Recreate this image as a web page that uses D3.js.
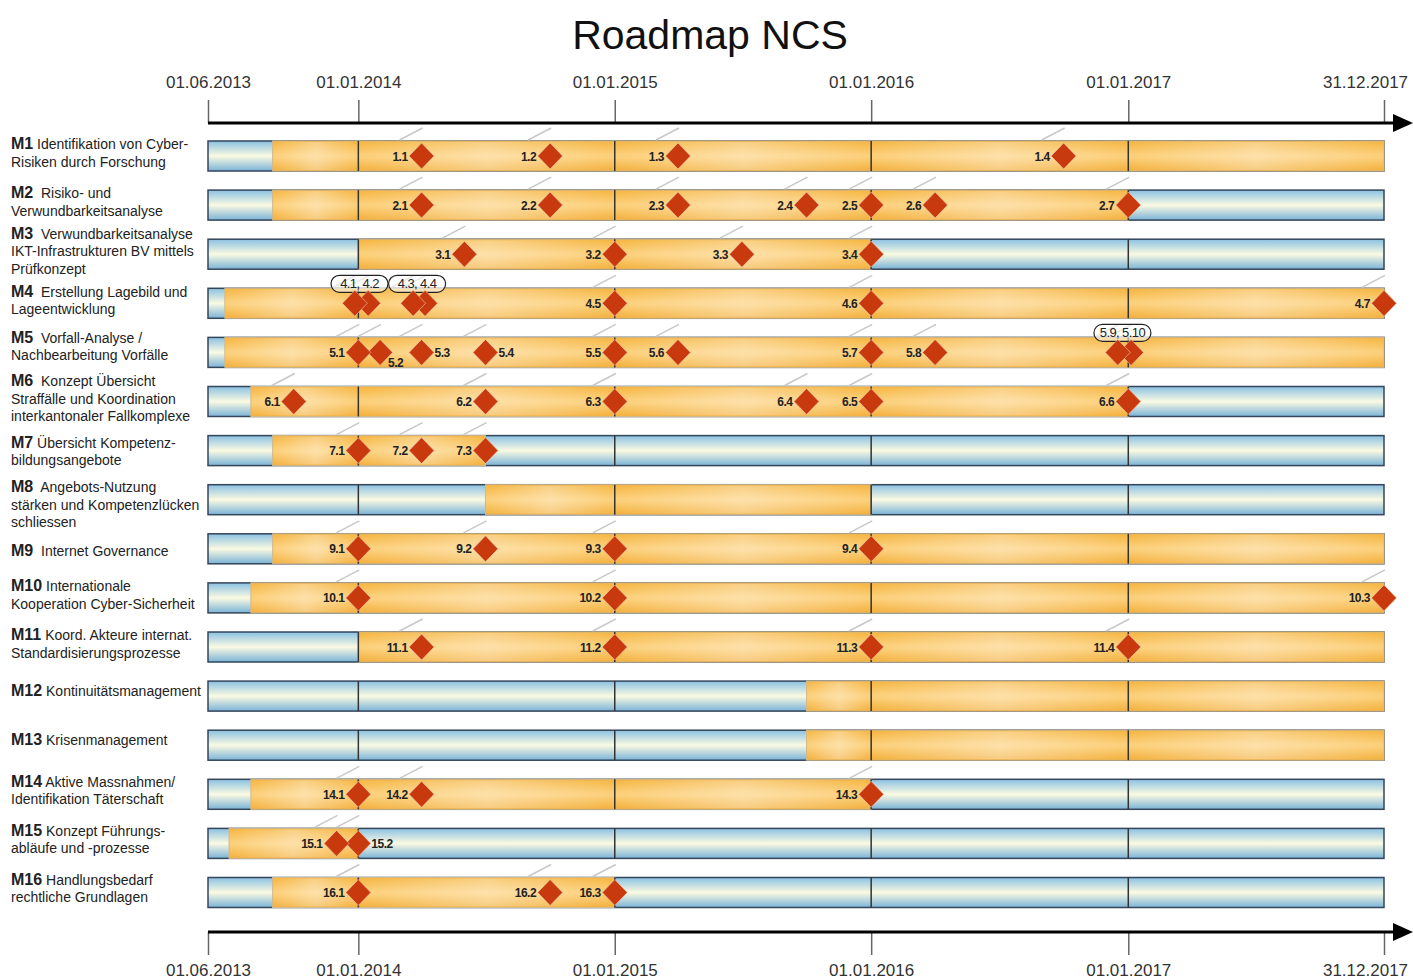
<!DOCTYPE html>
<html>
<head>
<meta charset="utf-8">
<title>Roadmap NCS</title>
<script src="https://cdn.jsdelivr.net/npm/d3@7"></script>
<style>
body { margin: 0; background: #fff; }
svg { display: block; font-family: "Liberation Sans", Arial, sans-serif; }
</style>
</head>
<body>
<svg id="chart"></svg>
<script>

var rows = ["M1","M2","M3","M4","M5","M6","M7","M8","M9","M10","M11","M12","M13","M14","M15","M16"];

var rowTitles = [
  [" Identifikation von Cyber-", "Risiken durch Forschung"],
  ["  Risiko- und", "Verwundbarkeitsanalyse"],
  ["  Verwundbarkeitsanalyse", "IKT-Infrastrukturen BV mittels", "Prüfkonzept"],
  ["  Erstellung Lagebild und", "Lageentwicklung"],
  ["  Vorfall-Analyse /", "Nachbearbeitung Vorfälle"],
  ["  Konzept Übersicht", "Straffälle und Koordination", "interkantonaler Fallkomplexe"],
  [" Übersicht Kompetenz-", "bildungsangebote"],
  ["  Angebots-Nutzung", "stärken und Kompetenzlücken", "schliessen"],
  ["  Internet Governance"],
  [" Internationale", "Kooperation Cyber-Sicherheit"],
  [" Koord. Akteure internat.", "Standardisierungsprozesse"],
  [" Kontinuitätsmanagement"],
  [" Krisenmanagement"],
  [" Aktive Massnahmen/", "Identifikation Täterschaft"],
  [" Konzept Führungs-", "abläufe und -prozesse"],
  [" Handlungsbedarf", "rechtliche Grundlagen"]
];

// active (orange) phase of each measure
var activeStart = ["2013-09-01","2013-09-01","2014-01-01","2013-06-25","2013-06-25","2013-08-01","2013-09-01","2014-07-01",
                   "2013-09-01","2013-08-01","2014-01-01","2015-10-01","2015-10-01","2013-08-01","2013-07-01","2013-09-01"];
var activeEnd   = ["2017-12-31","2017-01-01","2016-01-01","2017-12-31","2017-12-31","2017-01-01","2014-07-01","2016-01-01",
                   "2017-12-31","2017-12-31","2017-12-31","2017-12-31","2017-12-31","2016-01-01","2014-01-01","2015-01-01"];

// milestones: id, date, row
var milestones = [
  ["1.1","2014-04-01","M1"],["1.2","2014-10-01","M1"],["1.3","2015-04-01","M1"],["1.4","2016-10-01","M1"],
  ["2.1","2014-04-01","M2"],["2.2","2014-10-01","M2"],["2.3","2015-04-01","M2"],["2.4","2015-10-01","M2"],
  ["2.5","2016-01-01","M2"],["2.6","2016-04-01","M2"],["2.7","2017-01-01","M2"],
  ["3.1","2014-06-01","M3"],["3.2","2015-01-01","M3"],["3.3","2015-07-01","M3"],["3.4","2016-01-01","M3"],
  ["4.1","2013-12-27","M4"],["4.2","2014-01-15","M4"],["4.3","2014-03-20","M4"],["4.4","2014-04-06","M4"],
  ["4.5","2015-01-01","M4"],["4.6","2016-01-01","M4"],["4.7","2017-12-31","M4"],
  ["5.1","2014-01-01","M5"],["5.2","2014-02-01","M5"],["5.3","2014-04-01","M5"],["5.4","2014-07-01","M5"],
  ["5.5","2015-01-01","M5"],["5.6","2015-04-01","M5"],["5.7","2016-01-01","M5"],["5.8","2016-04-01","M5"],
  ["5.9","2016-12-17","M5"],["5.10","2017-01-05","M5"],
  ["6.1","2013-10-01","M6"],["6.2","2014-07-01","M6"],["6.3","2015-01-01","M6"],["6.4","2015-10-01","M6"],
  ["6.5","2016-01-01","M6"],["6.6","2017-01-01","M6"],
  ["7.1","2014-01-01","M7"],["7.2","2014-04-01","M7"],["7.3","2014-07-01","M7"],
  ["9.1","2014-01-01","M9"],["9.2","2014-07-01","M9"],["9.3","2015-01-01","M9"],["9.4","2016-01-01","M9"],
  ["10.1","2014-01-01","M10"],["10.2","2015-01-01","M10"],["10.3","2017-12-31","M10"],
  ["11.1","2014-04-01","M11"],["11.2","2015-01-01","M11"],["11.3","2016-01-01","M11"],["11.4","2017-01-01","M11"],
  ["14.1","2014-01-01","M14"],["14.2","2014-04-01","M14"],["14.3","2016-01-01","M14"],
  ["15.1","2013-12-01","M15"],["15.2","2014-01-01","M15"],
  ["16.1","2014-01-01","M16"],["16.2","2014-10-01","M16"],["16.3","2015-01-01","M16"]
];

// grouped milestones shown in a bubble instead of single labels
var calloutText = ["4.1, 4.2", "4.3, 4.4", "5.9, 5.10"];
var calloutIds  = [["4.1","4.2"], ["4.3","4.4"], ["5.9","5.10"]];

var tickDates = ["2013-06-01","2014-01-01","2015-01-01","2016-01-01","2017-01-01","2017-12-31"];

// ---------------------------------------------------------------

var W = 1413, H = 980;
var BAR_H = 30;
var DIAMOND = "#c83a0e";
var LABEL_FONT = "bold 12px 'Liberation Sans', Arial, sans-serif";

var parse = d3.timeParse("%Y-%m-%d");
var fmt = d3.timeFormat("%d.%m.%Y");

// which side the number of a milestone is written on
var labelSide = { "5.2": "below", "5.3": "right", "5.4": "right", "15.2": "right" };
// small vertical nudges of the row titles
var titleNudge = { M5: -3, M7: 4, M8: 8, M9: 5, M12: -2, M13: -2, M14: -1, M15: -1, M16: -1 };

var svg = d3.select("#chart").attr("width", W).attr("height", H);

var x = d3.scaleTime()
  .domain([parse(tickDates[0]), parse(tickDates[tickDates.length - 1])])
  .range([208, 1384]);

var y = d3.scalePoint().domain(rows).range([156, 892.5]);

var ticks = tickDates.map(parse);

// gradients
var defs = svg.append("defs");

function linGrad(id, horizontal, stops)
{
  var g = defs.append("linearGradient").attr("id", id)
    .attr("x1", 0).attr("y1", 0)
    .attr("x2", horizontal ? 1 : 0).attr("y2", horizontal ? 0 : 1);
  stops.forEach(function(s) {
    g.append("stop").attr("offset", s[0]).attr("stop-color", s[1]).attr("stop-opacity", s[2] === undefined ? 1 : s[2]);
  });
}

linGrad("blueGrad", false, [[0, "#8ac1e2"], [0.5, "#fafae2"], [1, "#7ab3d8"]]);
linGrad("orangeGrad", false, [[0, "#f5b43e"], [0.45, "#fccf78"], [0.55, "#fccf78"], [1, "#f3af3a"]]);
linGrad("shine", true, [[0, "#fff", 0], [0.5, "#fff", 0.35], [1, "#fff", 0]]);

// title
svg.append("text")
  .attr("x", 710).attr("y", 49)
  .attr("text-anchor", "middle")
  .attr("font-size", 41)
  .attr("fill", "#111")
  .text("Roadmap NCS");

// time axes, top and bottom
function drawAxis(yPos, top)
{
  var axis = (top ? d3.axisTop(x) : d3.axisBottom(x))
    .tickValues(ticks)
    .tickFormat(fmt)
    .tickSize(23)
    .tickPadding(top ? 12 : 9);

  var g = svg.append("g").attr("transform", "translate(0," + yPos + ")").call(axis);
  g.select(".domain").remove();
  g.selectAll(".tick line").attr("stroke", "#666").attr("stroke-width", 1.5);
  g.selectAll(".tick text")
    .attr("font-size", 17)
    .attr("font-family", "'Liberation Sans', Arial, sans-serif")
    .attr("fill", "#333")
    .attr("dx", function(d, i) { return i === ticks.length - 1 ? -19 : 0; });

  g.append("line")
    .attr("x1", x.range()[0]).attr("x2", 1398)
    .attr("stroke", "#000").attr("stroke-width", 3);
  g.append("path")
    .attr("d", "M1393,-9L1413,0L1393,9Z")
    .attr("fill", "#000");
}

drawAxis(123, true);
drawAxis(932, false);

// row titles
rows.forEach(function(code, i) {
  var lines = rowTitles[i];
  var lh = 17.5;
  var center = y(code) - 3 + (titleNudge[code] || 0);
  var first = center - (lines.length - 1) * lh / 2 + 5;

  var t = svg.append("text")
    .attr("fill", "#222")
    .style("white-space", "pre");

  lines.forEach(function(line, j) {
    if (j === 0) {
      t.append("tspan").attr("x", 11).attr("y", first)
        .attr("font-weight", "bold").attr("font-size", 16).text(code);
      t.append("tspan").attr("font-size", 14).text(line);
    } else {
      t.append("tspan").attr("x", 11).attr("y", first + j * lh)
        .attr("font-size", 14).text(line);
    }
  });
});

// bars
var bars = svg.append("g");

rows.forEach(function(code, i) {
  var top = y(code) - BAR_H / 2;

  bars.append("rect")
    .attr("x", x.range()[0]).attr("y", top)
    .attr("width", x.range()[1] - x.range()[0]).attr("height", BAR_H)
    .attr("fill", "url(#blueGrad)")
    .attr("stroke", "#35455a").attr("stroke-width", 1.5);

  // active phase, split at the year borders
  var s = parse(activeStart[i]), e = parse(activeEnd[i]);
  var cuts = [s].concat(ticks.filter(function(t) { return t > s && t < e; })).concat([e]);
  var x0 = x(s), x1 = x(e);

  bars.append("rect")
    .attr("x", x0).attr("y", top)
    .attr("width", x1 - x0).attr("height", BAR_H)
    .attr("fill", "url(#orangeGrad)")
    .attr("stroke", "#d2b98c").attr("stroke-width", 1);

  for (var k = 0; k < cuts.length - 1; k++) {
    var a = x(cuts[k]), b = x(cuts[k + 1]);
    bars.append("rect")
      .attr("x", a).attr("y", top + 1)
      .attr("width", b - a).attr("height", BAR_H - 2)
      .attr("fill", "url(#shine)");
  }

  // year separators
  ticks.slice(1, -1).forEach(function(t) {
    bars.append("line")
      .attr("x1", x(t)).attr("x2", x(t))
      .attr("y1", top).attr("y2", top + BAR_H)
      .attr("stroke", "#333").attr("stroke-width", 1.5);
  });
});

// milestones
var ms = milestones.map(function(m) {
  return { id: m[0], date: parse(m[1]), row: m[2], cx: x(parse(m[1])), cy: y(m[2]) };
});

var inCallout = {};
calloutIds.forEach(function(ids) { ids.forEach(function(id) { inCallout[id] = true; }); });

var marks = svg.append("g");

// little grey leader strokes above each milestone
marks.selectAll("line.leader")
  .data(ms)
  .enter()
    .append("line")
    .attr("class", "leader")
    .attr("x1", function(d) { return d.cx - 22; })
    .attr("y1", function(d) { return d.cy - BAR_H / 2 - 1; })
    .attr("x2", function(d) { return d.cx + 1; })
    .attr("y2", function(d) { return d.cy - BAR_H / 2 - 13; })
    .attr("stroke", "#c8c8c8").attr("stroke-width", 1.5);

// callout bubbles
calloutText.forEach(function(txt, i) {
  var group = ms.filter(function(d) { return calloutIds[i].indexOf(d.id) >= 0; });
  var cx = d3.mean(group, function(d) { return d.cx; }) - 2;
  var top = group[0].cy - BAR_H / 2 - 13;

  marks.append("rect")
    .attr("x", cx - 28.5).attr("y", top)
    .attr("width", 57).attr("height", 17)
    .attr("rx", 8.5)
    .attr("fill", "#fff").attr("fill-opacity", 0.55)
    .attr("stroke", "#222").attr("stroke-width", 1.2);

  marks.append("text")
    .attr("x", cx).attr("y", top + 13)
    .attr("text-anchor", "middle")
    .attr("font-size", 13)
    .attr("letter-spacing", -0.6)
    .attr("fill", "#222")
    .text(txt);
});

// diamonds, right ones first so the left one sits on top
marks.selectAll("path.diamond")
  .data(ms.slice().reverse())
  .enter()
    .append("path")
    .attr("class", "diamond")
    .attr("d", "M0,-13L12.5,0L0,13L-12.5,0Z")
    .attr("transform", function(d) { return "translate(" + d.cx + "," + d.cy + ")"; })
    .attr("fill", DIAMOND)
    .attr("stroke", "#f3cdb5").attr("stroke-width", 0.6);

marks.selectAll("text.ms")
  .data(ms.filter(function(d) { return !inCallout[d.id]; }))
  .enter()
    .append("text")
    .attr("class", "ms")
    .style("font", LABEL_FONT)
    .attr("letter-spacing", -0.5)
    .attr("fill", "#222")
    .attr("text-anchor", function(d) { return labelSide[d.id] ? "start" : "end"; })
    .attr("x", function(d) {
      var side = labelSide[d.id];
      if (side === "right") return d.cx + 13;
      if (side === "below") return d.cx + 8;
      return d.cx - 14;
    })
    .attr("y", function(d) { return d.cy + (labelSide[d.id] === "below" ? 15 : 4.5); })
    .text(function(d) { return d.id; });

</script>
</body>
</html>
